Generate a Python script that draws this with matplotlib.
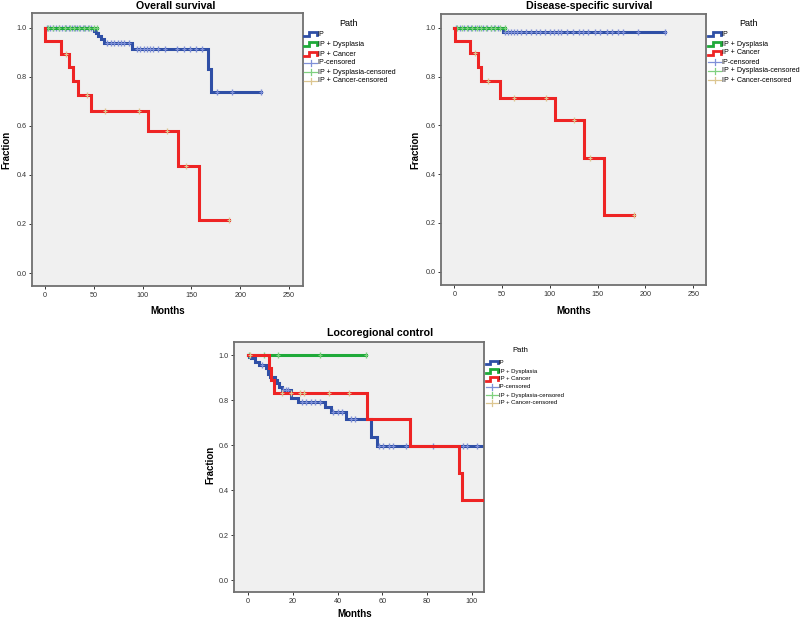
import numpy as np
import matplotlib
matplotlib.use("Agg")
import matplotlib.pyplot as plt
from matplotlib.lines import Line2D

plt.rcParams['font.family'] = ['Liberation Sans', 'DejaVu Sans']

# ---------------- data ----------------
# Overall survival
os_ip_t = [0, 50.5, 52.3, 54.7, 57, 60, 89, 166.5, 170, 221]
os_ip_s = [1.0, 0.989, 0.978, 0.966, 0.955, 0.94, 0.915, 0.832, 0.739, 0.739]
os_ip_c = [2, 5, 8, 11, 14, 17, 20, 22, 25, 28, 31, 33, 36, 39, 41, 44, 47,
           64, 68, 71, 74.5, 78, 81.4, 86.5,
           94, 97, 101, 104, 108, 111, 116, 123, 135, 142, 149, 155, 161,
           176, 192, 221]
os_dy_t = [0, 53]
os_dy_s = [1.0, 1.0]
os_dy_c = [3, 8, 14, 21, 26, 30, 35, 40, 45, 50, 53]
os_ca_t = [0, 0.5, 16.4, 24.6, 28.4, 34.2, 47.5, 105.7, 135.8, 157.7, 188.8]
os_ca_s = [1.0, 0.947, 0.895, 0.841, 0.785, 0.727, 0.661, 0.579, 0.436, 0.217, 0.217]
os_ca_c = [22, 43.5, 61, 96, 125, 144, 188.8]

# Disease-specific survival
ds_ip_t = [0, 50.5, 220.5]
ds_ip_s = [1.0, 0.985, 0.985]
ds_ip_c = [2, 6, 10, 14, 18, 22, 26, 30, 34, 38, 42, 46,
           53, 56, 59, 62, 66, 70, 75, 80, 85, 90, 95, 100, 104, 108, 112,
           118, 124, 130, 135, 140, 147, 152.6, 159.6, 164.8, 171.7, 177,
           192.6, 220.5]
ds_dy_t = [0, 53]
ds_dy_s = [1.0, 1.0]
ds_dy_c = [3, 8, 13, 19, 24, 28, 33, 38, 43, 48, 53]
ds_ca_t = [0, 0.5, 16.7, 24.7, 27.9, 47.4, 105.8, 136, 157, 188.4]
ds_ca_s = [1.0, 0.947, 0.895, 0.84, 0.782, 0.711, 0.623, 0.468, 0.234, 0.234]
ds_ca_c = [22, 35, 62, 96, 125, 142, 188.4]

# Locoregional control
lr_ip_t = [0, 0.5, 1.5, 3, 5, 8, 9, 10, 12, 13, 14, 15, 19, 22.5, 34.5, 37,
           44, 55, 57.5, 110]
lr_ip_s = [1.0, 0.993, 0.986, 0.972, 0.958, 0.944, 0.917, 0.903, 0.889, 0.875,
           0.861, 0.847, 0.812, 0.792, 0.771, 0.746, 0.715, 0.636, 0.597, 0.597]
lr_ip_c = [6, 15.5, 17, 18, 24, 26, 28, 30, 32, 38, 40, 42, 46, 48,
           58.7, 60.5, 63.1, 64.9, 70.6, 82.8, 96.2, 97.7, 102.2]
lr_dy_t = [0, 52.6]
lr_dy_s = [1.0, 1.0]
lr_dy_c = [0.5, 7, 13.5, 32, 52.6]
lr_ca_t = [0, 9.4, 10.3, 11.8, 53.4, 72.4, 94.5, 95.8, 110]
lr_ca_s = [1.0, 0.944, 0.889, 0.833, 0.715, 0.597, 0.478, 0.358, 0.358]
lr_ca_c = [1, 15, 19, 23, 25, 36, 45]

titles = ["Overall survival", "Disease-specific survival", "Locoregional control"]
legend_labels = ["IP", "IP + Dysplasia", "IP + Cancer",
                 "IP-censored", "IP + Dysplasia-censored", "IP + Cancer-censored"]
x_ticks_top = [0, 50, 100, 150, 200, 250]
x_ticks_bot = [0, 20, 40, 60, 80, 100]
y_ticks = [0.0, 0.2, 0.4, 0.6, 0.8, 1.0]

# ---------------- style ----------------
C_IP = '#2f4fa6'
C_DY = '#1faa3a'
C_CA = '#ee2424'
C_IPc = '#7f90d8'
C_DYc = '#7fd07f'
C_CAc = '#dcc690'
BG = '#f0f0f0'
FRAME = '#707070'

W, H = 800, 620
fig = plt.figure(figsize=(8, 6.2), dpi=100)


def fx(px):
    return px / W


def fy(py):
    return 1 - py / H


def add_axes(l, r, t, b):
    return fig.add_axes([fx(l), fy(b), (r - l) / W, (b - t) / H])


def surv_at(t_arr, s_arr, x):
    t_arr = np.asarray(t_arr)
    idx = np.searchsorted(t_arr, x, side='right') - 1
    return np.asarray(s_arr)[np.clip(idx, 0, len(s_arr) - 1)]


def km(ax, t, s, c, color, ccolor, z):
    ax.step(t, s, where='post', color=color, lw=2.2, zorder=z, solid_joinstyle='miter')
    cy = surv_at(t, s, c)
    ax.plot(c, cy, ls='none', marker='|', ms=4, mew=1.0, color=ccolor, zorder=z + 0.5)
    ax.plot(c, cy, ls='none', marker='_', ms=3.2, mew=0.7, color=ccolor, zorder=z + 0.5)


def style(ax, xlim, ylim, xticks, title, title_xy, months_xy, frac_xy):
    ax.set_facecolor(BG)
    ax.set_xlim(*xlim)
    ax.set_ylim(*ylim)
    ax.set_xticks(xticks)
    ax.set_xticklabels([str(v) for v in xticks], fontsize=5.2)
    ax.set_yticks(y_ticks)
    ax.set_yticklabels(["%.1f" % v for v in y_ticks], fontsize=5.2)
    ax.tick_params(direction='out', length=2.5, width=0.7, colors='#333333', pad=1.5)
    for sp in ax.spines.values():
        sp.set_color(FRAME)
        sp.set_linewidth(1.3)
    fig.text(fx(title_xy[0]), fy(title_xy[1]), title, fontsize=7.7, fontweight='bold',
             ha='center', va='center')
    fig.text(fx(months_xy[0]), fy(months_xy[1]), "Months", fontsize=7, fontweight='bold',
             ha='center', va='center')
    fig.text(fx(frac_xy[0]), fy(frac_xy[1]), "Fraction", fontsize=7, fontweight='bold',
             ha='center', va='center', rotation=90)


def legend(x0, title_x, title_y, ys, fs, iw):
    fig.text(fx(title_x), fy(title_y), "Path", fontsize=fs * 1.27, ha='center', va='center')
    cols = [C_IP, C_DY, C_CA]
    for i in range(3):
        y = ys[i]
        xs = [x0, x0 + iw * 0.35, x0 + iw * 0.35, x0 + iw, x0 + iw]
        yy = [y + 1.5, y + 1.5, y - 2, y - 2, y + 0.5]
        fig.add_artist(Line2D([fx(v) for v in xs], [fy(v) for v in yy],
                              color=cols[i], lw=2.0, solid_joinstyle='miter'))
    ccols = [C_IPc, C_DYc, C_CAc]
    for i in range(3):
        y = ys[3 + i]
        fig.add_artist(Line2D([fx(x0), fx(x0 + iw)], [fy(y), fy(y)], color=ccols[i], lw=0.9))
        fig.add_artist(Line2D([fx(x0 + iw * 0.5)] * 2, [fy(y - 2.8), fy(y + 2.8)],
                              color=ccols[i], lw=0.9))
    for i, lab in enumerate(legend_labels):
        fig.text(fx(x0 + iw + 0.5), fy(ys[i]), lab, fontsize=fs, ha='left', va='center')


# ---------------- panel 1 ----------------
ax1 = add_axes(32, 303, 13, 286)
km(ax1, os_ip_t, os_ip_s, os_ip_c, C_IP, C_IPc, 2)
km(ax1, os_dy_t, os_dy_s, os_dy_c, C_DY, C_DYc, 3)
km(ax1, os_ca_t, os_ca_s, os_ca_c, C_CA, C_CAc, 4)
style(ax1, (-13.3, 264.3), (-0.053, 1.061), x_ticks_top, titles[0],
      (176, 6), (168, 311), (6, 150))
legend(304, 348, 23, [34, 44, 54, 63, 72, 81], 5.1, 13)

# ---------------- panel 2 ----------------
ax2 = add_axes(441, 706, 14, 285)
km(ax2, ds_ip_t, ds_ip_s, ds_ip_c, C_IP, C_IPc, 2)
km(ax2, ds_dy_t, ds_dy_s, ds_dy_c, C_DY, C_DYc, 3)
km(ax2, ds_ca_t, ds_ca_s, ds_ca_c, C_CA, C_CAc, 4)
style(ax2, (-13.9, 263.3), (-0.055, 1.057), x_ticks_top, titles[1],
      (589, 6), (574, 311), (415, 150))
legend(708, 748, 23, [34, 44, 53, 62, 71, 80], 5.1, 13)

# ---------------- panel 3 ----------------
ax3 = add_axes(234, 484, 342, 592)
km(ax3, lr_ip_t, lr_ip_s, lr_ip_c, C_IP, C_IPc, 2)
km(ax3, lr_dy_t, lr_dy_s, lr_dy_c, C_DY, C_DYc, 3)
km(ax3, lr_ca_t, lr_ca_s, lr_ca_c, C_CA, C_CAc, 4)
style(ax3, (-6.3, 105.5), (-0.053, 1.059), x_ticks_bot, titles[2],
      (380, 333), (355, 614), (210, 465))
legend(486, 520, 350, [362.7, 371, 379, 387, 395, 403], 4.3, 12)

fig.savefig("out.png", dpi=100, facecolor='white')
